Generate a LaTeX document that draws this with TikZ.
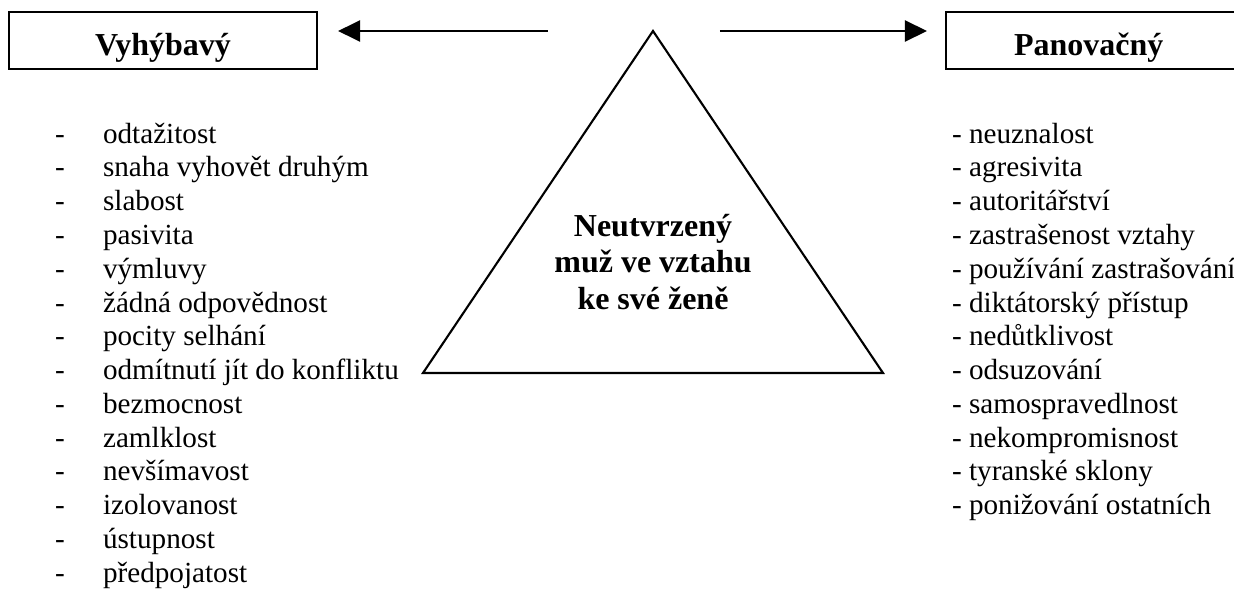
\documentclass[tikz,border=0pt]{standalone}
\usepackage{fontspec}
\setmainfont{Liberation Serif}
\usetikzlibrary{arrows.meta,positioning}

\begin{document}
\begin{tikzpicture}[>={Triangle[length=0.22cm,width=0.21cm]},line width=0.6pt,
  boxnode/.style={draw,text height=0.43cm,text depth=0.14cm,inner sep=0pt,font=\fontsize{9.1}{10.4}\selectfont\bfseries},
  item/.style={anchor=base west,inner sep=0pt,font=\fontsize{8.3}{9.7}\selectfont}]
\clip (0,0) rectangle (12.34,5.88);
% boxes
\node[boxnode,minimum width=3.08cm] (vyh) at (1.63,5.475) {Vyhýbavý};
\node[boxnode,anchor=west,text width=2.72cm,align=left,inner xsep=0.68cm] (pan) at (9.45,5.475) {Panovačný};
% triangle
\coordinate (top) at (6.53,5.57);
\coordinate (bl) at (4.23,2.15);
\coordinate (br) at (8.83,2.15);
\draw (top) -- (br) -- (bl) -- cycle;
\node[align=center,font=\fontsize{9.1}{10.4}\selectfont\bfseries] (man) at (6.53,3.26) {Neutvrzený\\muž ve vztahu\\ke své ženě};
% arrows
\coordinate (ltail) at (5.48,5.57);
\coordinate (rtail) at (7.20,5.57);
\draw[->,shorten >=0.2cm] (ltail) -- (ltail -| vyh.east);
\draw[->,shorten >=0.18cm] (rtail) -- (rtail -| pan.west);
% left list
\foreach \w [count=\i] in {odtažitost,snaha vyhovět druhým,slabost,pasivita,výmluvy,žádná odpovědnost,pocity selhání,odmítnutí jít do konfliktu,bezmocnost,zamlklost,nevšímavost,izolovanost,ústupnost,předpojatost} {
  \node[item] (ld\i) at (0.54,{4.788-0.338*\i}) {-};
  \node[item] (l\i) at (1.02,{4.788-0.338*\i}) {\w};
}
% right list
\foreach \w [count=\i] in {neuznalost,agresivita,autoritářství,zastrašenost vztahy,používání zastrašování,diktátorský přístup,nedůtklivost,odsuzování,samospravedlnost,nekompromisnost,tyranské sklony,ponižování ostatních} {
  \node[item] (r\i) at (9.51,{4.788-0.338*\i}) {- \w};
}
\end{tikzpicture}
\end{document}
